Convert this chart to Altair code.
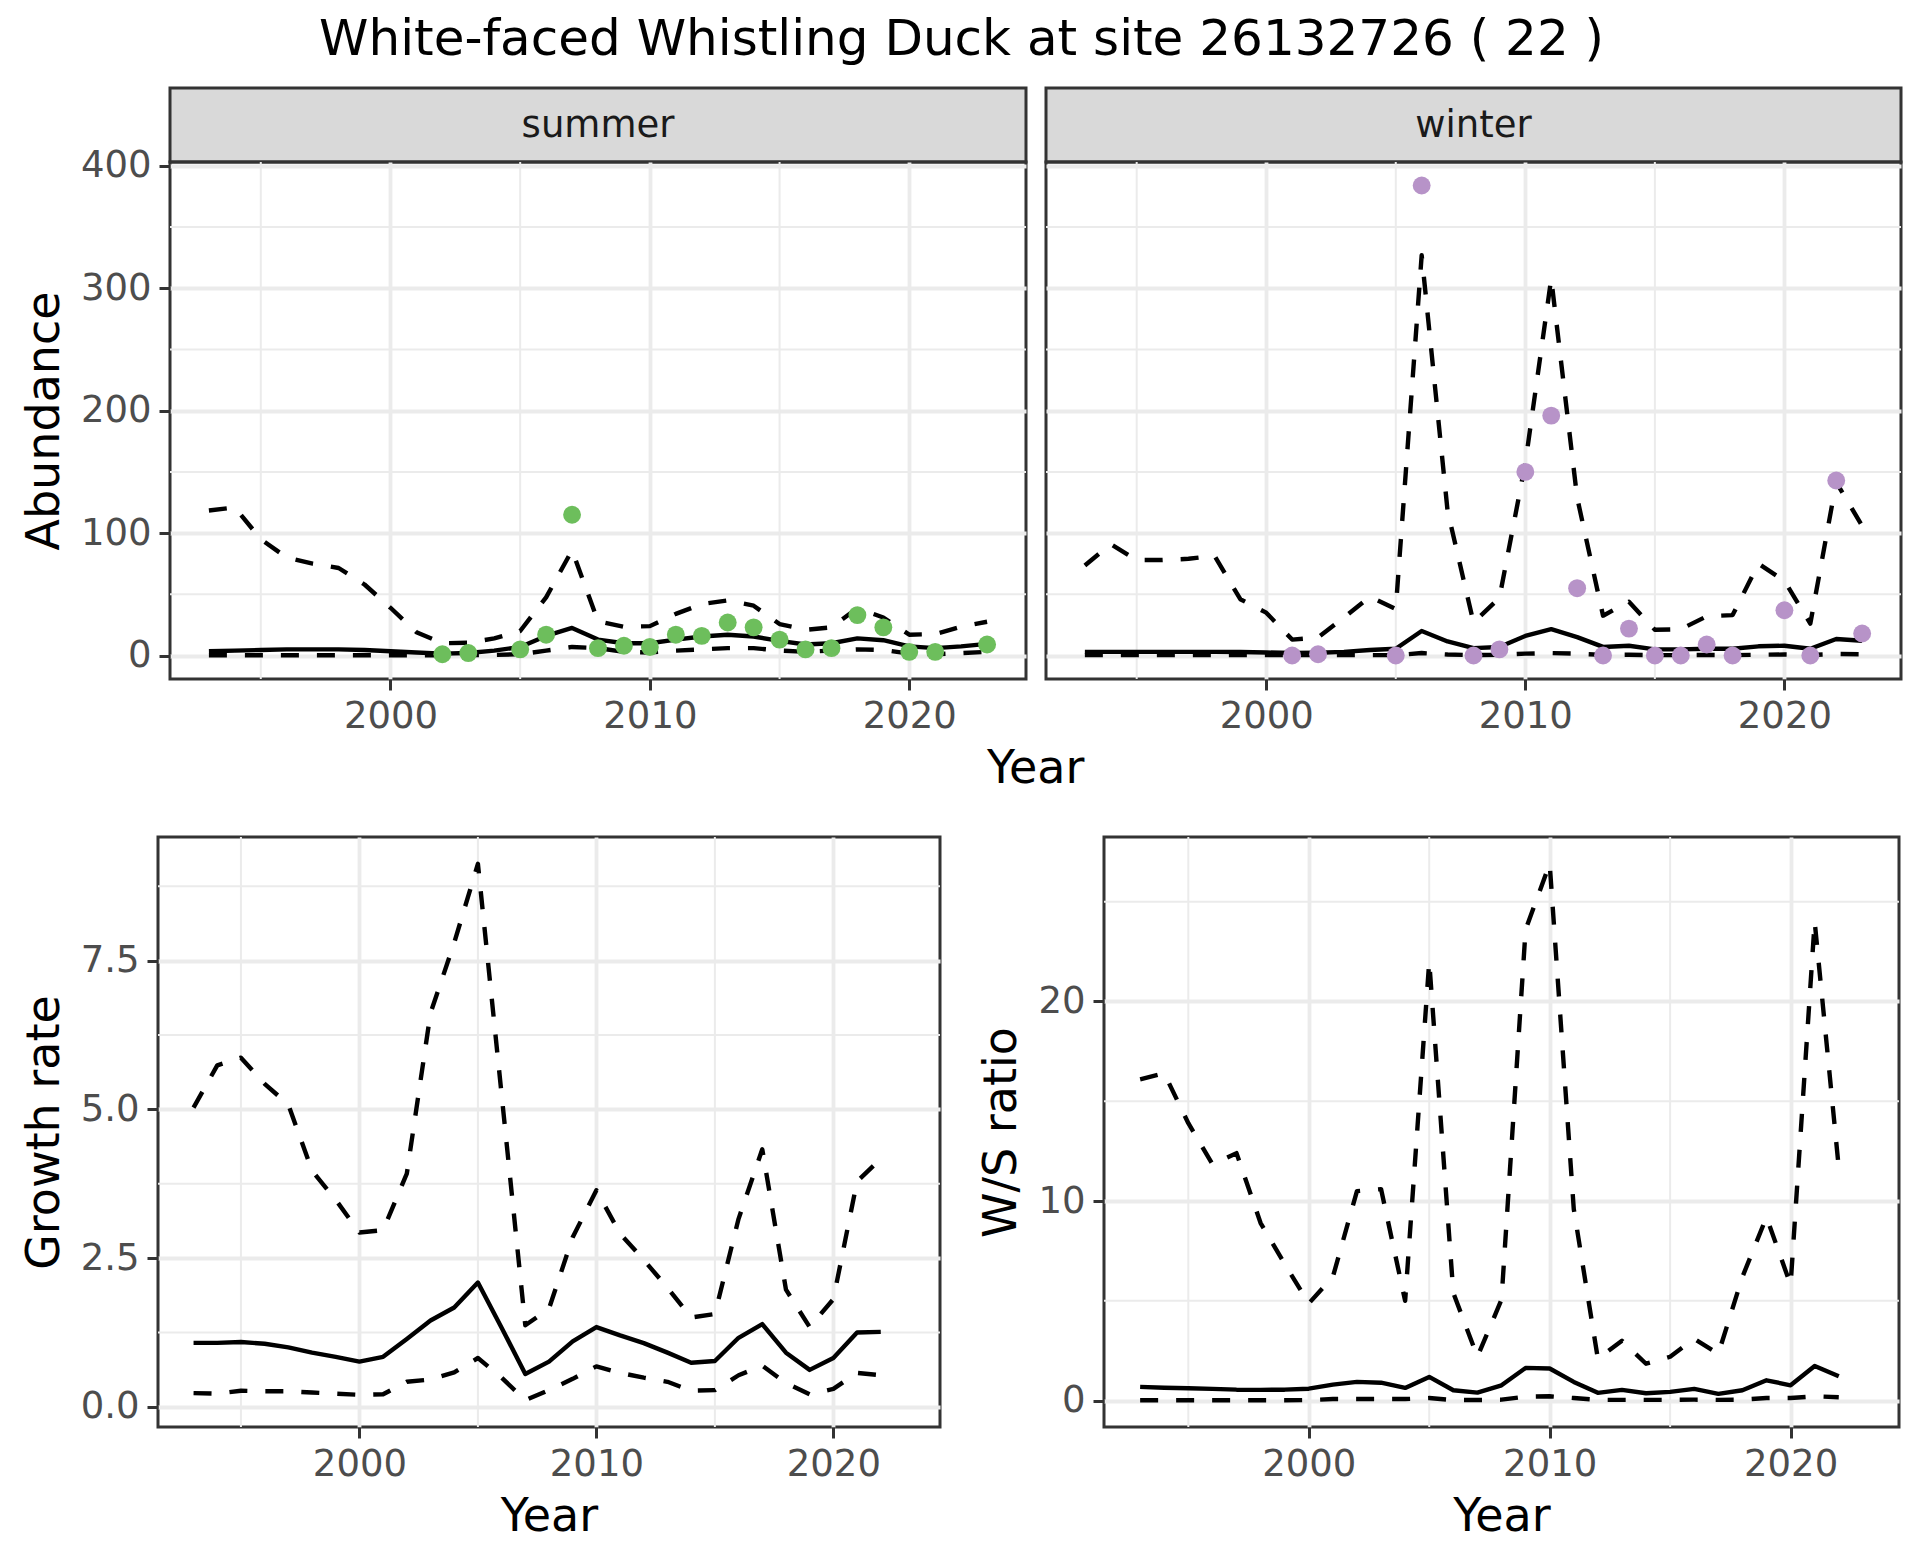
import altair as alt
import pandas as pd

FONT = "DejaVu Sans"

# ---------------- data ----------------
years_top = [1993, 1994, 1995, 1996, 1997, 1998, 1999, 2000, 2001, 2002, 2003, 2004, 2005, 2006, 2007,
             2008, 2009, 2010, 2011, 2012, 2013, 2014, 2015, 2016, 2017, 2018, 2019, 2020, 2021, 2022, 2023]

summer_mean = [3.5, 4, 4.5, 5, 5, 5, 4.5, 3.5, 2.5, 1.5, 2, 4, 7, 16, 22.5, 13, 10, 10, 13, 15.5, 17, 15.5,
               12, 9, 10, 14, 12.5, 7.5, 6, 7.5, 9.5]
summer_upper = [118.5, 121, 95, 80, 75, 71.5, 58, 39, 19, 10, 10.4, 14, 20, 47.5, 86, 28, 23.5, 24, 34, 42,
                45, 40.7, 25.7, 21, 23, 38.8, 31, 17, 17.5, 23.5, 27.6]
summer_lower = [0.2, 0.2, 0.2, 0.2, 0.2, 0.2, 0.2, 0.2, 0.2, 0.2, 0.3, 0.5, 1, 4, 7, 6, 3, 2.5, 4, 5, 6, 6,
                4, 3, 4, 5, 4.5, 1.5, 1, 2, 3]
summer_pt_years = [2002, 2003, 2005, 2006, 2007, 2008, 2009, 2010, 2011, 2012, 2013, 2014, 2015, 2016,
                   2017, 2018, 2019, 2020, 2021, 2023]
summer_pt_vals = [1, 2, 5, 17, 115, 6, 8, 7, 17, 16, 27, 23, 13, 5, 6, 33, 23, 3, 3, 9]

winter_mean = [3, 3, 3, 3, 3, 3, 2.8, 2.5, 2, 2.3, 3, 4.5, 5.5, 20, 11.5, 6, 7, 16, 21.5, 15, 7, 8, 5, 5,
               5.5, 5.5, 7.5, 8, 5.5, 13.5, 12]
winter_upper = [73.5, 91, 78, 78, 79, 81.6, 46, 35, 13, 14.7, 31, 48, 38, 327, 118, 27, 47, 157, 308, 129,
                32.5, 44, 21, 21.5, 32, 33, 75, 61, 26, 141.6, 106]
winter_lower = [0.3, 0.3, 0.3, 0.3, 0.3, 0.3, 0.3, 0.3, 0.3, 0.3, 0.3, 0.3, 0.3, 2, 0.8, 0.3, 0.5, 1.5, 2,
                1.5, 0.5, 0.6, 0.3, 0.3, 0.4, 0.3, 0.6, 0.8, 0.4, 1.2, 1.0]
winter_pt_years = [2001, 2002, 2005, 2006, 2008, 2009, 2010, 2011, 2012, 2013, 2014, 2015, 2016, 2017,
                   2018, 2020, 2021, 2022, 2023]
winter_pt_vals = [0, 1, 0, 384, 0, 5, 150, 196, 55, 0, 22, 0, 0, 9, 0, 37, 0, 143, 18]

years_bot = [1993, 1994, 1995, 1996, 1997, 1998, 1999, 2000, 2001, 2002, 2003, 2004, 2005, 2006, 2007,
             2008, 2009, 2010, 2011, 2012, 2013, 2014, 2015, 2016, 2017, 2018, 2019, 2020, 2021, 2022]

gr_mean = [1.075, 1.075, 1.09, 1.06, 1.0, 0.91, 0.84, 0.76, 0.84, 1.14, 1.45, 1.67, 2.09, 1.33, 0.55, 0.76,
           1.1, 1.34, 1.2, 1.07, 0.91, 0.74, 0.77, 1.16, 1.39, 0.91, 0.62, 0.82, 1.25, 1.26]
gr_upper = [5.03, 5.74, 5.87, 5.43, 5.08, 3.97, 3.48, 2.93, 2.97, 3.92, 6.62, 7.8, 9.13, 5.25, 1.37, 1.65,
            2.85, 3.64, 2.91, 2.47, 2.0, 1.5, 1.56, 3.16, 4.33, 1.97, 1.34, 1.81, 3.79, 4.17]
gr_lower = [0.23, 0.22, 0.27, 0.26, 0.26, 0.24, 0.22, 0.2, 0.21, 0.42, 0.46, 0.58, 0.82, 0.49, 0.11, 0.28,
            0.47, 0.68, 0.57, 0.49, 0.42, 0.27, 0.28, 0.53, 0.69, 0.4, 0.21, 0.3, 0.57, 0.53]

ws_mean = [0.69, 0.65, 0.62, 0.59, 0.55, 0.54, 0.55, 0.6, 0.8, 0.94, 0.9, 0.64, 1.19, 0.52, 0.4, 0.77, 1.64,
           1.61, 0.94, 0.39, 0.54, 0.37, 0.44, 0.59, 0.34, 0.52, 1.02, 0.77, 1.74, 1.22]
ws_upper = [16.1, 16.4, 13.9, 11.85, 12.4, 8.9, 6.85, 4.87, 6.2, 10.5, 10.6, 5.0, 22.0, 5.4, 2.2, 5.06, 23.6,
            26.9, 9.6, 2.1, 3.0, 1.85, 2.2, 3.1, 2.35, 6.2, 9.2, 5.8, 24.0, 11.66]
ws_lower = [0.02, 0.02, 0.02, 0.02, 0.02, 0.02, 0.02, 0.03, 0.08, 0.08, 0.08, 0.08, 0.13, 0.03, 0.03, 0.05,
            0.2, 0.22, 0.13, 0.04, 0.04, 0.04, 0.04, 0.05, 0.04, 0.05, 0.13, 0.13, 0.22, 0.17]

x_labels = [2000, 2010, 2020]
x_minor = [1995, 2005, 2015]

GREEN = "#6DBE5C"
PURPLE = "#B793C8"
GRID = "#EBEBEB"

XDOM = [1991.5, 2024.5]


def long_df(years, mean, lower, upper):
    rows = []
    for name, vals in (("mean", mean), ("lower", lower), ("upper", upper)):
        for yr, v in zip(years, vals):
            rows.append({"Year": yr, "value": v, "series": name})
    return pd.DataFrame(rows)


def panel(df, ydom, ymajor, yminor, yfmt, w, h, ytitle=None, xtitle=None, show_y=True,
          pts_years=None, pts_vals=None, pcolor=None):
    xscale = alt.Scale(domain=XDOM, nice=False, zero=False)
    yscale = alt.Scale(domain=ydom, nice=False, zero=False)
    xenc = alt.X("Year:Q", scale=xscale,
                 axis=alt.Axis(values=x_labels, format="d", title=xtitle, grid=True))
    if show_y:
        yax = alt.Axis(values=ymajor, format=yfmt, title=ytitle, grid=True)
    else:
        yax = alt.Axis(values=ymajor, labels=False, ticks=False, title=None, grid=True)
    yenc = alt.Y("value:Q", scale=yscale, axis=yax)

    vminor = alt.Chart(pd.DataFrame({"Year": x_minor})).mark_rule(
        color=GRID, strokeWidth=2).encode(x=xenc)
    hminor = alt.Chart(pd.DataFrame({"value": yminor})).mark_rule(
        color=GRID, strokeWidth=2).encode(y=yenc)

    base = alt.Chart(df)
    mean_line = base.transform_filter(alt.datum.series == "mean").mark_line(
        color="black", strokeWidth=4.4, strokeJoin="round").encode(x=xenc, y=yenc)
    ci_lines = base.transform_filter(alt.datum.series != "mean").mark_line(
        color="black", strokeWidth=4.4, strokeDash=[18, 18], strokeJoin="round").encode(
        x=xenc, y=yenc, detail="series:N")
    layers = [vminor, hminor, mean_line, ci_lines]
    if pts_years is not None:
        pdf = pd.DataFrame({"Year": pts_years, "value": pts_vals})
        layers.append(alt.Chart(pdf).mark_circle(size=320, opacity=1, color=pcolor).encode(x=xenc, y=yenc))
    return alt.layer(*layers).properties(width=w, height=h)


def strip(label, w):
    return alt.Chart(pd.DataFrame({"label": [label]})).mark_text(
        font=FONT, fontSize=37, color="#1A1A1A").encode(
        text="label:N", x=alt.value(w / 2), y=alt.value(38)).properties(
        width=w, height=74,
        view=alt.ViewBackground(fill="#D9D9D9", stroke="#333333", strokeWidth=3))


summer_df = long_df(years_top, summer_mean, summer_lower, summer_upper)
winter_df = long_df(years_top, winter_mean, winter_lower, winter_upper)
gr_df = long_df(years_bot, gr_mean, gr_lower, gr_upper)
ws_df = long_df(years_bot, ws_mean, ws_lower, ws_upper)

TOPDOM = [-19.2, 403.2]
top_major = [0, 100, 200, 300, 400]
top_minor = [50, 150, 250, 350]

p_summer = panel(summer_df, TOPDOM, top_major, top_minor, "d", 856, 517, ytitle="Abundance",
                 pts_years=summer_pt_years, pts_vals=summer_pt_vals, pcolor=GREEN)
p_winter = panel(winter_df, TOPDOM, top_major, top_minor, "d", 855, 517, show_y=False,
                 pts_years=winter_pt_years, pts_vals=winter_pt_vals, pcolor=PURPLE)

col1 = alt.vconcat(strip("summer", 856), p_summer, spacing=0, bounds="flush")
col2 = alt.vconcat(strip("winter", 855), p_winter, spacing=0, bounds="flush")
panels_top = alt.hconcat(col1, col2, spacing=14)

# invisible spacer that shifts the faceted row 12px to the right of the lower row
spacer = alt.Chart(pd.DataFrame({"s": [0]})).mark_point(opacity=0).encode(
    x=alt.value(0), y=alt.value(0)).properties(
    width=2, height=2, view=alt.ViewBackground(strokeWidth=0, fillOpacity=0))

row1 = alt.hconcat(spacer, panels_top, spacing=10, bounds="flush").properties(
    title=alt.TitleParams(text="Year", orient="bottom", anchor="middle", font=FONT, fontSize=46,
                          fontWeight="normal", color="black", offset=11, dx=74))

p_gr = panel(gr_df, [-0.34, 9.58], [0, 2.5, 5, 7.5], [1.25, 3.75, 6.25, 8.75], ".1f", 782, 590,
             ytitle="Growth rate", xtitle="Year")
p_ws = panel(ws_df, [-1.32, 28.24], [0, 10, 20], [5, 15, 25], "d", 795, 590,
             ytitle="W/S ratio", xtitle="Year")

row2 = alt.hconcat(p_gr, p_ws, spacing=34)

chart = alt.vconcat(row1, row2, spacing=42).properties(
    title=alt.TitleParams(text="White-faced Whistling Duck at site 26132726 ( 22 )", anchor="middle",
                          font=FONT, fontSize=50, fontWeight="normal", color="black", offset=20.5),
    padding={"left": 11, "top": 6, "right": 5, "bottom": 5},
).configure_view(stroke="#333333", strokeWidth=3).configure_axis(
    labelFont=FONT, labelFontSize=37, labelColor="#4D4D4D",
    titleFont=FONT, titleFontSize=46, titleFontWeight="normal", titleColor="black",
    tickColor="#333333", tickWidth=3, tickSize=11, labelPadding=8, titlePadding=12,
    domain=False, gridColor=GRID, gridWidth=3.8,
)

chart.save("out.html", embed_options={"renderer": "svg", "actions": False})
